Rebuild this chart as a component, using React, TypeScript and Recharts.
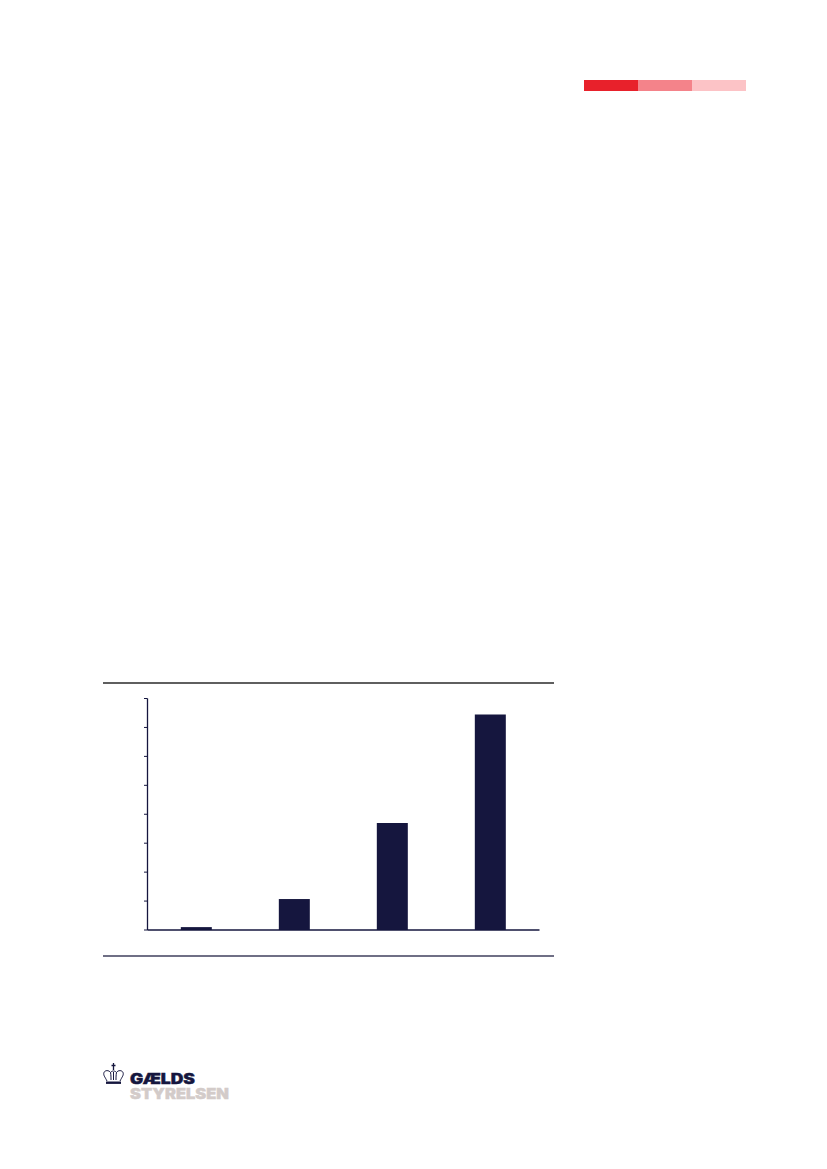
import React from "react";
import { BarChart, Bar, XAxis, YAxis } from "recharts";

const categories = ["A", "B", "C", "D"];
const values = [0.1, 1.07, 3.7, 7.45];
const yTicks = [0, 1, 2, 3, 4, 5, 6, 7, 8];
const navy = "#15163e";

const data = categories.map((c, i) => ({ c, v: values[i] }));
const blank = () => "";

const box = (left: number, top: number, width: number, height: number, background: string): React.CSSProperties => ({
  position: "absolute", left, top, width, height, background,
});

function Logo() {
  return (
    <svg style={{ position: "absolute", left: 95, top: 1055 }} width={145} height={50}>
      <g fill="none" stroke={navy} strokeWidth={1}>
        <path d="M12 26 C10 22 8 20 9 17.5 C10 15 14 15 15.5 17.5 C16 20 16 22 16 25" />
        <path d="M25 26 C27 22 29 20 28 17.5 C27 15 23 15 21.5 17.5 C21 20 21 22 21 25" />
        <path d="M18.5 17 L18.5 25 M15.5 17.5 C17 15.5 20 15.5 21.5 17.5" />
        <path d="M18.5 8 L18.5 15 M16.5 10.5 L20.5 10.5" strokeWidth={1.3} />
      </g>
      <rect x={11} y={26.5} width={15} height={2.4} fill={navy} />
      <text x={35} y={28.5} fontFamily="Inter" fontWeight={900} fontSize={14} fill={navy} stroke={navy} strokeWidth={0.4} textLength={65} lengthAdjust="spacingAndGlyphs">GÆLDS</text>
      <text x={35} y={43.5} fontFamily="Inter" fontWeight={900} fontSize={14} fill="#d3cbc9" stroke="#d3cbc9" strokeWidth={0.4} textLength={99} lengthAdjust="spacingAndGlyphs">STYRELSEN</text>
    </svg>
  );
}

export default function App() {
  return (
    <div style={{ position: "absolute", left: 0, top: 0, width: 827, height: 1169, background: "#fff", overflow: "hidden" }}>
      <div style={box(584, 80, 54, 11, "#e8212b")} />
      <div style={box(638, 80, 54, 11, "#f4838a")} />
      <div style={box(692, 80, 54, 11, "#fcc3c6")} />
      <div style={box(103, 682, 450.5, 1.6, "#5f5f5f")} />
      <div style={box(103, 955, 450.5, 1.6, "#6f6f85")} />
      <div style={{ position: "absolute", left: 0, top: 0 }}>
        <BarChart
          width={827}
          height={1169}
          data={data}
          margin={{ top: 698.5, right: 287.5, bottom: 229, left: 137.5 }}
          barCategoryGap="34%"
        >
          <XAxis dataKey="c" height={10} tickLine={false} tickFormatter={blank} axisLine={{ stroke: navy, strokeWidth: 1.3 }} />
          <YAxis
            width={10}
            domain={[0, 8]}
            ticks={yTicks}
            interval={0}
            tickSize={3.5}
            tickFormatter={blank}
            tickLine={{ stroke: navy, strokeWidth: 1 }}
            axisLine={{ stroke: navy, strokeWidth: 1.3 }}
          />
          <Bar dataKey="v" fill={navy} isAnimationActive={false} />
        </BarChart>
      </div>
      <Logo />
    </div>
  );
}
